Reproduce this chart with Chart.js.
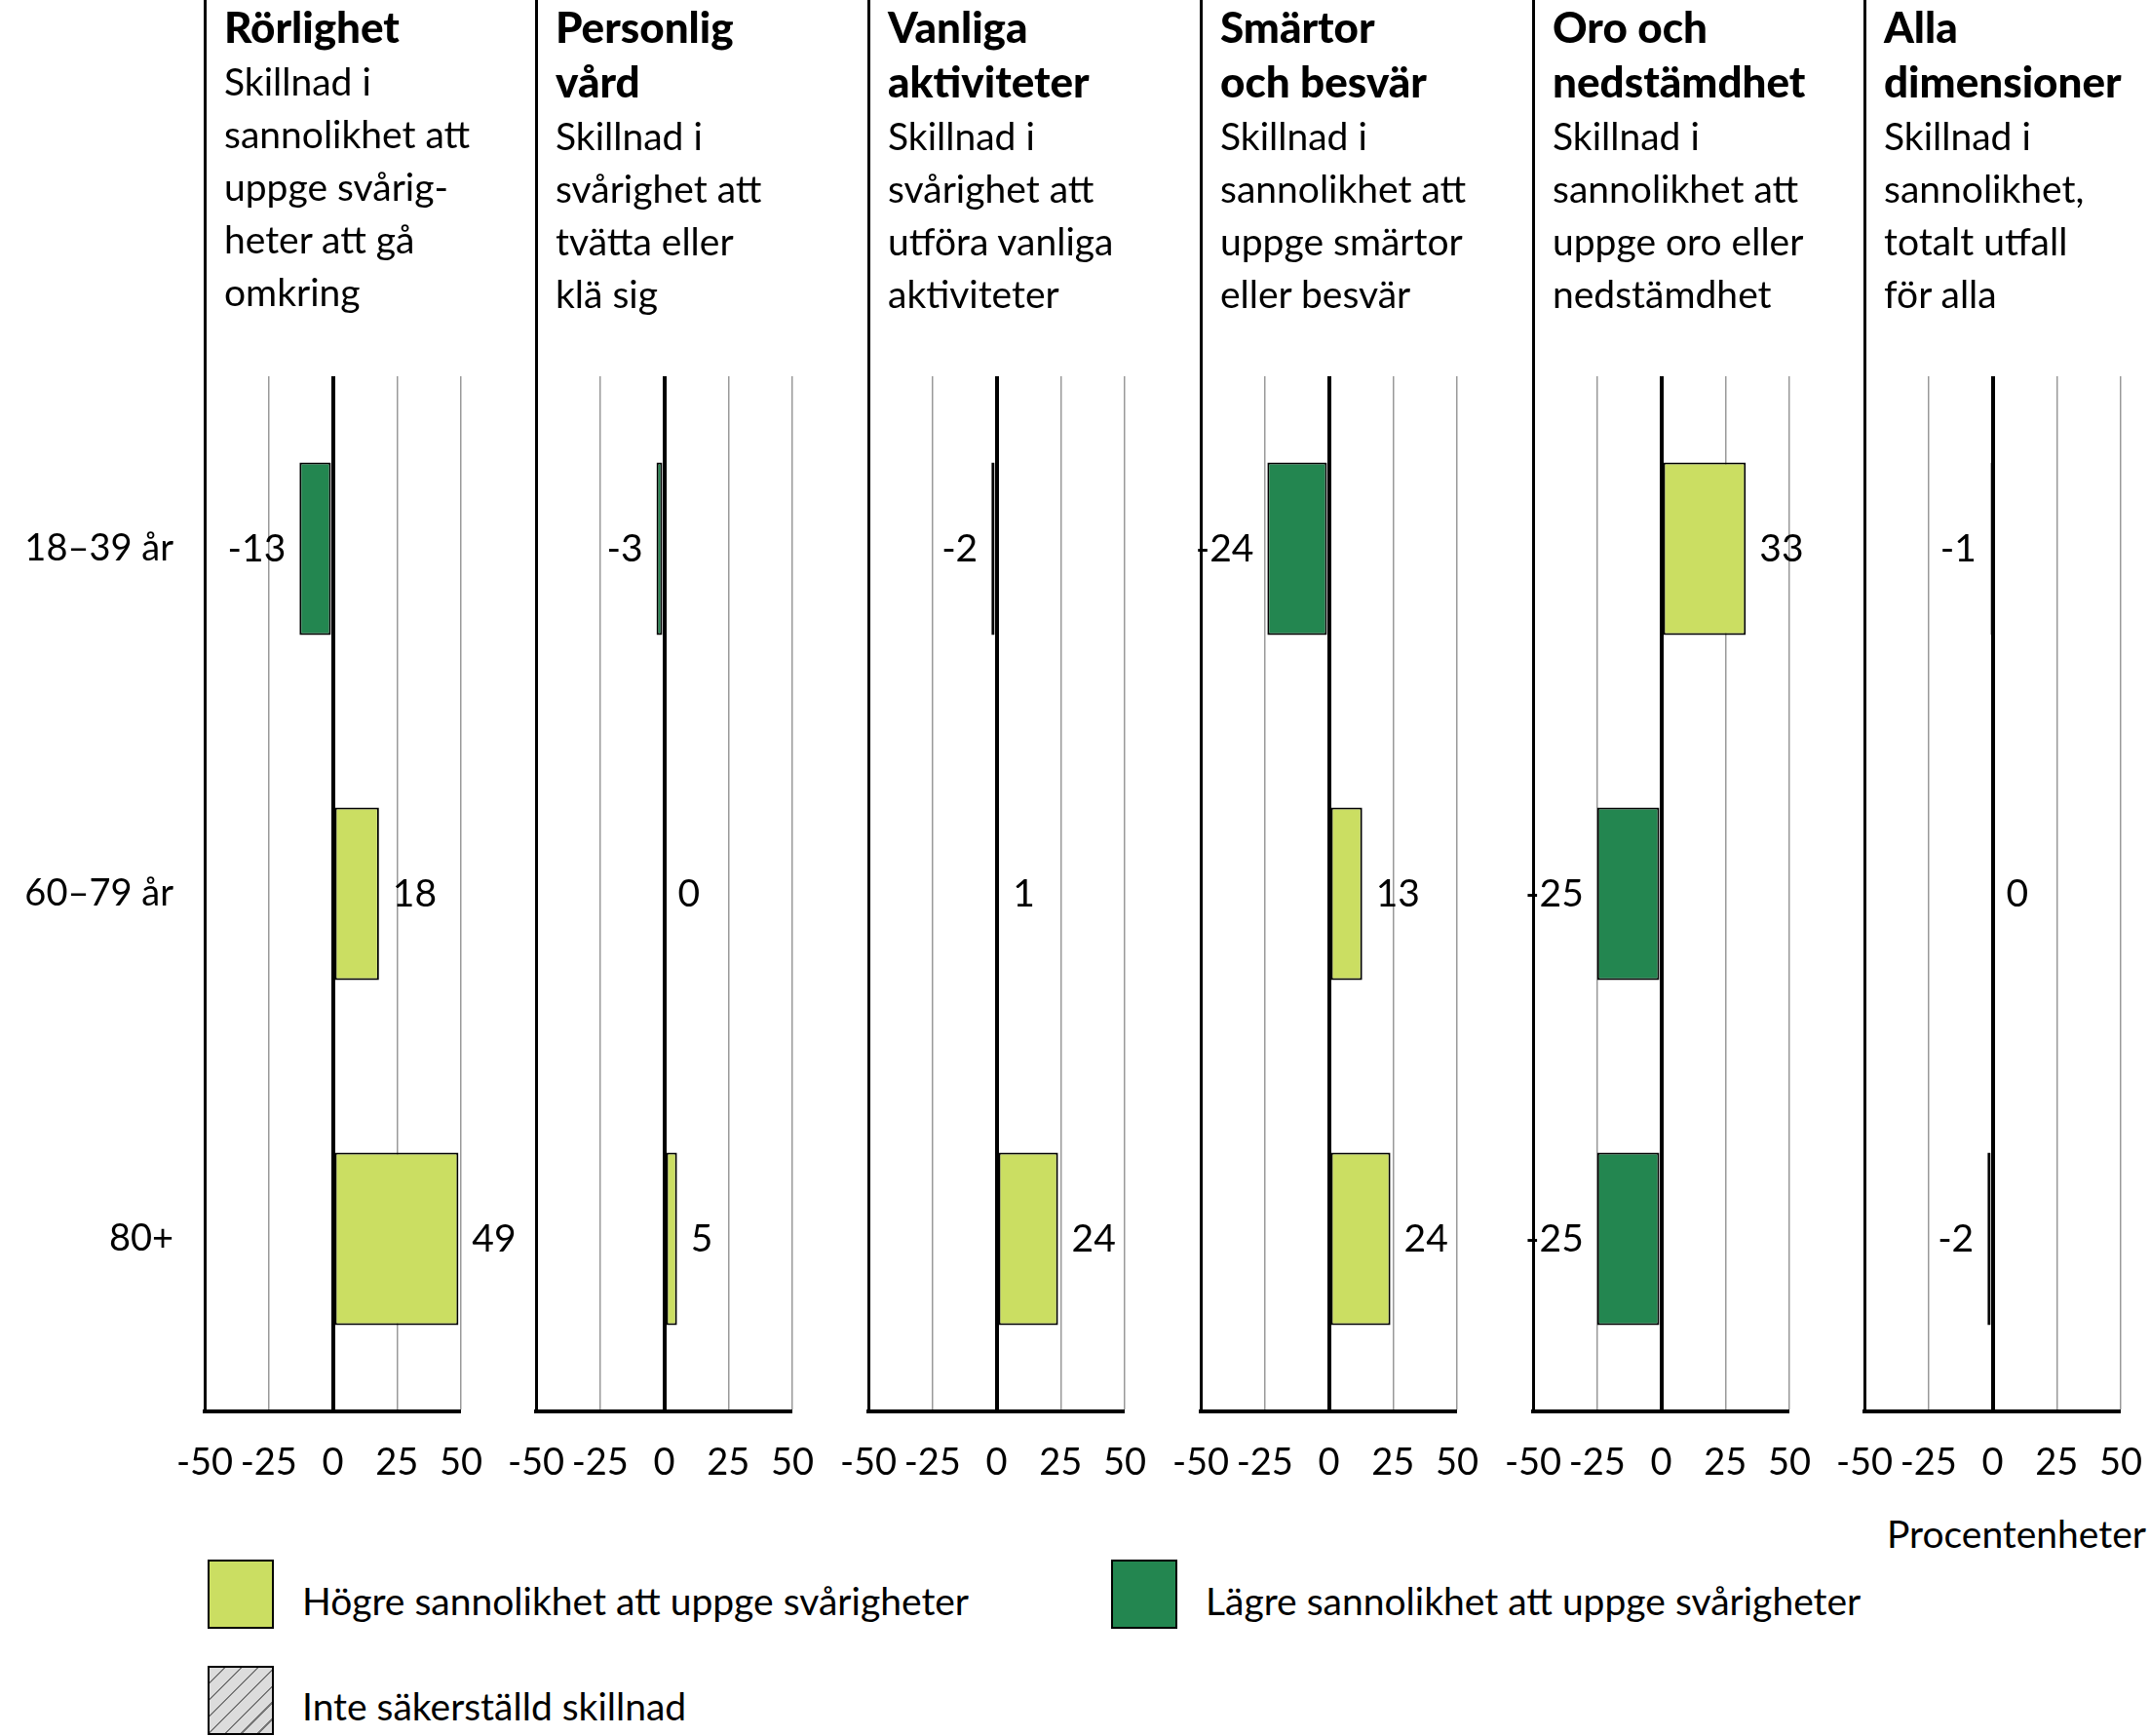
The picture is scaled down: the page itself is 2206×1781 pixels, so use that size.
<!DOCTYPE html>
<html><head><meta charset="utf-8">
<script src="https://cdn.jsdelivr.net/npm/chart.js@4"></script>
<style>
body{margin:0;width:2206px;height:1781px;background:#fff;font-family:Lato,sans-serif;color:#000;position:relative;overflow:hidden}
canvas{position:absolute;top:0}
.ax{position:absolute;top:0;width:3px;height:1448px;background:#000}
.ttl{position:absolute;top:0;white-space:nowrap;font-size:39px;line-height:54px}
.ttl b{font-size:44px;font-weight:900}
.lg{position:absolute;font-size:39px;white-space:nowrap}
.sw{position:absolute;width:64px;height:67px;border:2px solid #000}
</style></head><body>
<script>
const ageGroups = ['18–39 år', '60–79 år', '80+'];
const panelTitles = [
  ['Rörlighet'], ['Personlig', 'vård'], ['Vanliga', 'aktiviteter'],
  ['Smärtor', 'och besvär'], ['Oro och', 'nedstämdhet'], ['Alla', 'dimensioner']
];
const panelSubtitles = [
  ['Skillnad i', 'sannolikhet att', 'uppge svårig-', 'heter att gå', 'omkring'],
  ['Skillnad i', 'svårighet att', 'tvätta eller', 'klä sig'],
  ['Skillnad i', 'svårighet att', 'utföra vanliga', 'aktiviteter'],
  ['Skillnad i', 'sannolikhet att', 'uppge smärtor', 'eller besvär'],
  ['Skillnad i', 'sannolikhet att', 'uppge oro eller', 'nedstämdhet'],
  ['Skillnad i', 'sannolikhet,', 'totalt utfall', 'för alla']
];
const rorlighet   = [-13, 18, 49];
const personlig   = [-3, 0, 5];
const vanliga     = [-2, 1, 24];
const smartor     = [-24, 13, 24];
const oro         = [33, -25, -25];
const alla        = [-1, 0, -2];
// kind per bar: h = högre, l = lägre, n = inte säkerställd
const rorlighetKind = ['l', 'h', 'h'];
const personligKind = ['l', 'h', 'h'];
const vanligaKind   = ['n', 'h', 'h'];
const smartorKind   = ['l', 'h', 'h'];
const oroKind       = ['h', 'l', 'l'];
const allaKind      = ['l', 'h', 'h'];
const xTicks = [-50, -25, 0, 25, 50];

const series = [rorlighet, personlig, vanliga, smartor, oro, alla];
const kinds = [rorlighetKind, personligKind, vanligaKind, smartorKind, oroKind, allaKind];
const axisX = [210, 550, 891, 1232, 1573, 1913];

const HIGH = '#cbde62', LOW = '#238650';
function hatch() {
  const c = document.createElement('canvas'); c.width = 16; c.height = 16;
  const g = c.getContext('2d');
  g.fillStyle = '#dcdcdc'; g.fillRect(0, 0, 16, 16);
  g.strokeStyle = '#777'; g.lineWidth = 1.5;
  g.beginPath(); g.moveTo(0, 16); g.lineTo(16, 0); g.moveTo(-4, 4); g.lineTo(4, -4); g.moveTo(12, 20); g.lineTo(20, 12); g.stroke();
  return g.createPattern(c, 'repeat');
}
const HATCH = hatch();
const fillFor = k => k === 'h' ? HIGH : k === 'l' ? LOW : HATCH;

const valueLabels = {
  id: 'valueLabels',
  afterDatasetsDraw(chart) {
    const ctx = chart.ctx;
    const meta = chart.getDatasetMeta(0);
    ctx.save();
    ctx.font = '39px Lato';
    ctx.fillStyle = '#000';
    ctx.textBaseline = 'middle';
    meta.data.forEach((bar, i) => {
      const v = chart.data.datasets[0].data[i];
      if (v < 0) { ctx.textAlign = 'right'; ctx.fillText(String(v), bar.x - 14, bar.y); }
      else { ctx.textAlign = 'left'; ctx.fillText(String(v), bar.x + 14, bar.y); }
    });
    ctx.restore();
  }
};

series.forEach((vals, p) => {
  const cv = document.createElement('canvas');
  cv.width = 543; cv.height = 1545;
  cv.style.left = (axisX[p] - 200) + 'px';
  document.body.appendChild(cv);

  const ax = document.createElement('div');
  ax.className = 'ax'; ax.style.left = (axisX[p] - 1) + 'px';
  document.body.appendChild(ax);

  const t = document.createElement('div');
  t.className = 'ttl'; t.style.left = (axisX[p] + 20) + 'px';
  t.innerHTML = panelTitles[p].map(s => '<b>' + s + '</b>').join('<br>') + '<br>' + panelSubtitles[p].join('<br>');
  document.body.appendChild(t);

  new Chart(cv, {
    type: 'bar',
    data: {
      labels: ageGroups,
      datasets: [{
        data: vals,
        backgroundColor: kinds[p].map(fillFor),
        borderColor: '#000',
        borderWidth: 2,
        borderSkipped: false,
        barPercentage: 0.5,
        categoryPercentage: 1
      }]
    },
    options: {
      indexAxis: 'y',
      responsive: false,
      animation: false,
      layout: { padding: { top: 386, right: 80, left: 0, bottom: 0 } },
      plugins: { legend: { display: false }, tooltip: { enabled: false } },
      scales: {
        x: {
          min: -50, max: 50,
          afterBuildTicks: s => { s.ticks = xTicks.map(v => ({ value: v })); },
          afterFit: s => { s.height = 97; },
          ticks: { autoSkip: false, maxRotation: 0, padding: 30, color: '#000', font: { family: 'Lato', size: 38 } },
          grid: {
            drawTicks: false,
            color: c => (c.tick && (c.tick.value === 0 || c.tick.value === -50)) ? '#000' : '#999',
            lineWidth: c => (c.tick && c.tick.value === 0) ? 4 : (c.tick && c.tick.value === -50 ? 0 : 1.5)
          },
          border: { display: true, color: '#000', width: 4 }
        },
        y: {
          afterFit: s => { s.width = 200; },
          ticks: { padding: 24, color: p === 0 ? '#000' : 'rgba(0,0,0,0)', font: { family: 'Lato', size: 38 } },
          grid: { display: false },
          border: { display: false }
        }
      }
    },
    plugins: [valueLabels]
  });
});
</script>
<div class="sw" style="left:213px;top:1600px;background:#cbde62"></div>
<div class="lg" style="left:310px;top:1619px">Högre sannolikhet att uppge svårigheter</div>
<div class="sw" style="left:1140px;top:1600px;background:#238650"></div>
<div class="lg" style="left:1237px;top:1619px">Lägre sannolikhet att uppge svårigheter</div>
<div class="sw" style="left:213px;top:1709px;background:repeating-linear-gradient(135deg,#dcdcdc 0 10px,#777 10px 12px)"></div>
<div class="lg" style="left:310px;top:1727px">Inte säkerställd skillnad</div>
<div class="lg" style="right:4px;top:1550px">Procentenheter</div>
</body></html>
